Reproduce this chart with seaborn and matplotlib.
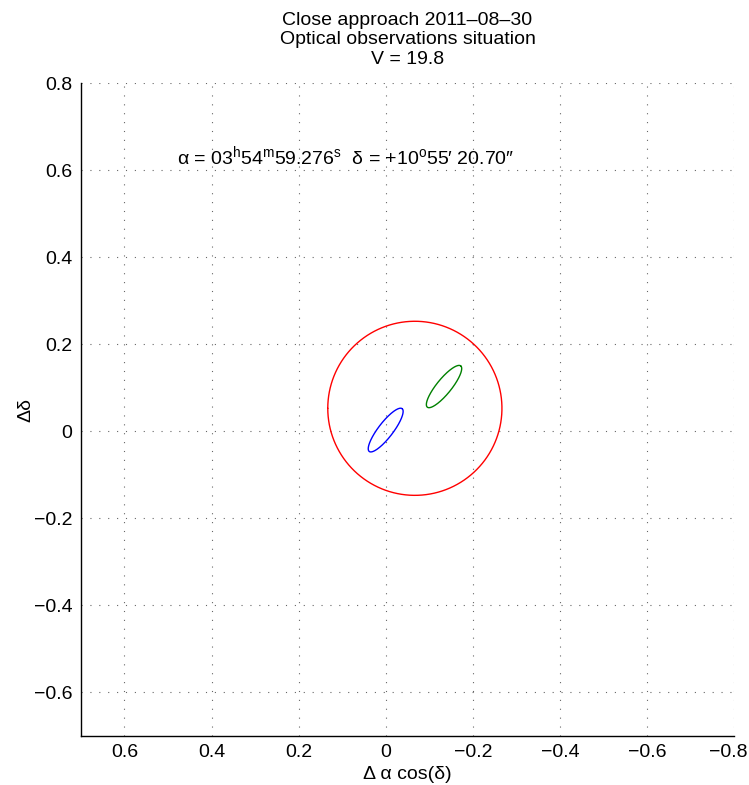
import numpy as np
import matplotlib
matplotlib.use("Agg")
import matplotlib.pyplot as plt
import matplotlib.transforms as mtransforms
import seaborn as sns

# --- data ---
circle_center = (-0.067, 0.053)
circle_radius = 0.2

ellipse_names = ["blue", "green"]
ellipse_cx = [0.0, -0.134]
ellipse_cy = [0.003, 0.103]
ellipse_a = [0.062, 0.061]       # semi-major
ellipse_b = [0.017, 0.017]       # semi-minor
ellipse_angle = [127.5, 129.0]   # degrees, data coords
ellipse_colors = ["#0000ff", "#008000"]

x_ticks = [0.6, 0.4, 0.2, 0, -0.2, -0.4, -0.6, -0.8]
y_ticks = [-0.6, -0.4, -0.2, 0, 0.2, 0.4, 0.6, 0.8]

sns.set_style("white")
plt.rcParams['font.family'] = ['Liberation Sans', 'DejaVu Sans']
plt.rcParams['mathtext.fontset'] = 'custom'
plt.rcParams['mathtext.rm'] = 'Liberation Sans'
plt.rcParams['mathtext.it'] = 'Liberation Sans:italic'
plt.rcParams['text.color'] = 'black'
plt.rcParams['axes.labelcolor'] = 'black'
plt.rcParams['xtick.color'] = 'black'
plt.rcParams['ytick.color'] = 'black'

fig = plt.figure(figsize=(7.49, 7.85), dpi=100)
ax = fig.add_axes([0.108, 0.0624, 0.872, 0.8316])

t = np.linspace(0, 2 * np.pi, 400)

# red circle
ax.plot(circle_center[0] + circle_radius * np.cos(t),
        circle_center[1] + circle_radius * np.sin(t),
        color="red", lw=1.0)

# uncertainty ellipses
for cx, cy, a, b, ang, col in zip(ellipse_cx, ellipse_cy, ellipse_a,
                                  ellipse_b, ellipse_angle, ellipse_colors):
    th = np.deg2rad(ang)
    ex = cx + a * np.cos(t) * np.cos(th) - b * np.sin(t) * np.sin(th)
    ey = cy + a * np.cos(t) * np.sin(th) + b * np.sin(t) * np.cos(th)
    ax.plot(ex, ey, color=col, lw=1.0)

ax.set_xlim(0.7, -0.8)
ax.set_ylim(-0.7, 0.8)
ax.set_xticks(x_ticks)
ax.set_yticks(y_ticks)
fmt = matplotlib.ticker.FuncFormatter(lambda v, p: ("%g" % v).replace("-", "\u2212"))
ax.xaxis.set_major_formatter(fmt)
ax.yaxis.set_major_formatter(fmt)
ax.tick_params(direction="in", length=4, labelsize=14, width=0.8, pad=6)

ax.grid(True, linestyle=(0, (1, 7)), color="black", lw=0.8, alpha=0.6)
sns.despine(ax=ax, top=True, right=True)
for s in ["left", "bottom"]:
    ax.spines[s].set_color("black")
    ax.spines[s].set_linewidth(1.0)

# nudge the last x tick label so it stays inside the figure
last = ax.get_xticklabels()[-1]
last.set_transform(last.get_transform() +
                   mtransforms.ScaledTranslation(-6 / 100, 0, fig.dpi_scale_trans))

ax.set_xlabel("\u0394 \u03b1 cos(\u03b4)", fontsize=14, labelpad=3)
ax.set_ylabel("\u0394\u03b4", fontsize=14, labelpad=0)
ax.set_title("Close approach 2011\u201308\u201330\nOptical observations situation\nV = 19.8",
             fontsize=14, linespacing=1.2, pad=14)

ax.text(0.48, 0.632,
        "\u03b1 = 03$^{\\rm h}$54$^{\\rm m}$59.276$^{\\rm s}$  "
        "\u03b4 = +10$^{\\rm o}$55\u2032 20.70\u2033",
        fontsize=14, va="center", ha="left")

fig.savefig("out.png", dpi=100)
